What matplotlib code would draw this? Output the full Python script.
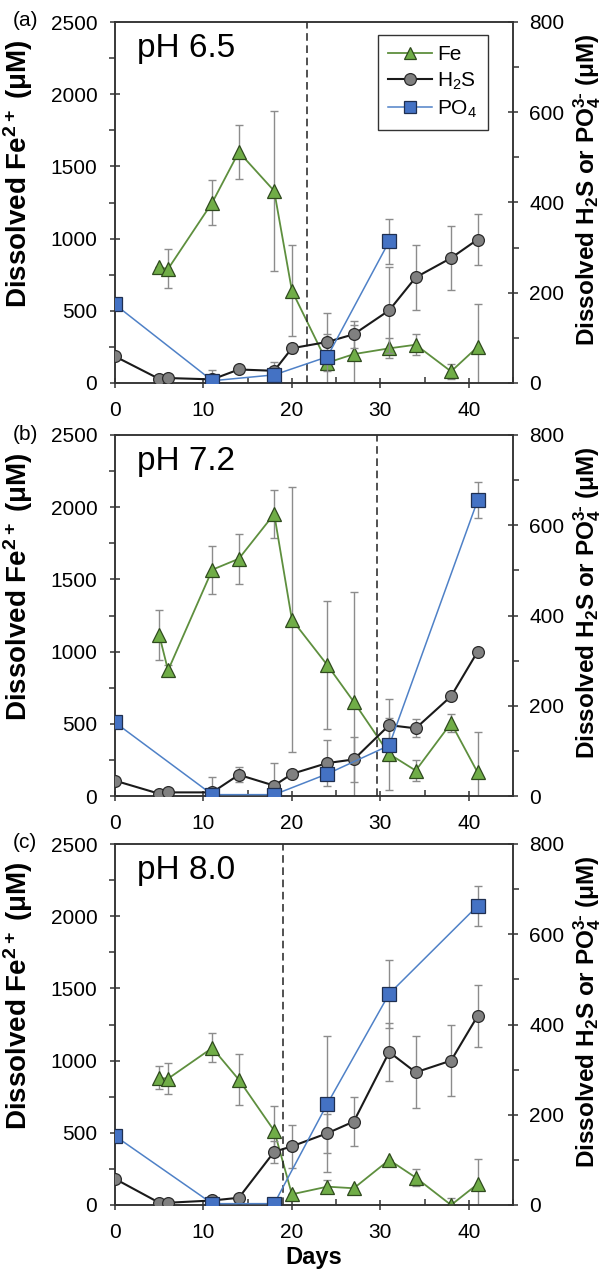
import matplotlib
matplotlib.use("Agg")
import matplotlib.pyplot as plt
from matplotlib.ticker import MultipleLocator
from matplotlib.lines import Line2D

plt.rcParams['font.family'] = ['Liberation Sans', 'DejaVu Sans']
plt.rcParams['mathtext.default'] = 'regular'

# ---------------- data ----------------
days_fe = [5, 6, 11, 14, 18, 20, 24, 27, 31, 34, 38, 41]
days_h2s = [0, 5, 6, 11, 14, 18, 20, 24, 27, 31, 34, 38, 41]
days_po4_a = [0, 11, 18, 24, 31]
days_po4_bc = [0, 11, 18, 24, 31, 41]

fe_a = [800, 790, 1250, 1600, 1330, 640, 140, 200, 240, 265, 80, 250]
fe_a_err = [0, 135, 155, 190, 555, 315, 200, 200, 70, 72, 55, 300]
h2s_a = [59, 9, 11, 8, 30, 27, 77, 91, 108, 161, 234, 277, 318]
h2s_a_err = [0, 0, 0, 20, 0, 20, 10, 64, 30, 95, 72, 70, 57]
po4_a = [174, 5, 18, 58, 314]
po4_a_err = [0, 0, 0, 0, 50]

fe_b = [1115, 870, 1567, 1643, 1953, 1222, 907, 652, 291, 176, 505, 163]
fe_b_err = [170, 40, 165, 172, 165, 915, 445, 760, 250, 70, 60, 280]
h2s_b = [34, 5, 8, 8, 47, 23, 49, 73, 81, 157, 150, 221, 320]
h2s_b_err = [0, 0, 0, 35, 17, 50, 0, 50, 50, 58, 20, 0, 0]
po4_b = [163, 3, 3, 49, 112, 655]
po4_b_err = [0, 0, 0, 0, 0, 40]

fe_c = [880, 875, 1088, 868, 514, 74, 127, 116, 312, 190, 0, 145]
fe_c_err = [80, 105, 100, 175, 170, 0, 45, 0, 0, 60, 50, 175]
h2s_c = [58, 5, 5, 10, 16, 118, 130, 159, 185, 339, 294, 320, 419]
h2s_c_err = [0, 0, 0, 0, 0, 24, 48, 43, 55, 65, 80, 78, 68]
po4_c = [153, 3, 3, 224, 468, 663]
po4_c_err = [0, 0, 0, 150, 75, 45]

panel_letters = ['(a)', '(b)', '(c)']
panel_titles = ['pH 6.5', 'pH 7.2', 'pH 8.0']
divide_day = [21.7, 29.6, 19.0]

panels = [
    (fe_a, fe_a_err, h2s_a, h2s_a_err, days_po4_a, po4_a, po4_a_err),
    (fe_b, fe_b_err, h2s_b, h2s_b_err, days_po4_bc, po4_b, po4_b_err),
    (fe_c, fe_c_err, h2s_c, h2s_c_err, days_po4_bc, po4_c, po4_c_err),
]

# ---------------- style ----------------
FE_FILL = '#70AD47'
FE_LINE = '#5E8F3E'
H2S_FILL = '#808080'
PO4_FILL = '#4472C4'
PO4_LINE = '#4F81C7'
ERR_COL = '#8C8C8C'
SPINE = '#333333'
TICK_FS = 15

W, H = 601, 1274
fig = plt.figure(figsize=(W / 100, H / 100), dpi=100)

x_left, x_right = 115, 513
left = x_left / W
width = (x_right - x_left) / W
tops_bottoms = [(22, 383), (435, 796), (844, 1205)]

for i, (fe, fe_err, h2s, h2s_err, dpo4, po4, po4_err) in enumerate(panels):
    top, bot = tops_bottoms[i]
    ax = fig.add_axes([left, 1 - bot / H, width, (bot - top) / H])
    ax2 = ax.twinx()

    # Fe on left axis
    ax.errorbar(days_fe, fe, yerr=fe_err, fmt='none', ecolor=ERR_COL,
                elinewidth=1.0, capsize=3, capthick=1.0, zorder=1)
    ax.plot(days_fe, fe, '-', color=FE_LINE, lw=1.3, zorder=2)
    ax.plot(days_fe, fe, '^', ms=9.5, mfc=FE_FILL, mec='#2F4A1E', mew=0.9,
            ls='none', zorder=3)

    # H2S and PO4 on right axis
    ax2.errorbar(days_h2s, h2s, yerr=h2s_err, fmt='none', ecolor=ERR_COL,
                 elinewidth=1.0, capsize=3, capthick=1.0, zorder=1)
    ax2.errorbar(dpo4, po4, yerr=po4_err, fmt='none', ecolor=ERR_COL,
                 elinewidth=1.0, capsize=3, capthick=1.0, zorder=1)
    ax2.plot(days_h2s, h2s, '-', color='#1A1A1A', lw=1.5, zorder=2)
    ax2.plot(days_h2s, h2s, 'o', ms=8.5, mfc=H2S_FILL, mec='#2A2A2A', mew=0.9,
             ls='none', zorder=3)
    ax2.plot(dpo4, po4, '-', color=PO4_LINE, lw=1.1, zorder=4)
    ax2.plot(dpo4, po4, 's', ms=9.5, mfc=PO4_FILL, mec='#1F2F50', mew=0.9,
             ls='none', zorder=5)

    ax2.axvline(divide_day[i], color='#222222', lw=1.1, ls=(0, (5, 3)), zorder=0)

    ax.set_xlim(0, 45)
    ax.set_ylim(0, 2500)
    ax2.set_ylim(0, 800)

    ax.xaxis.set_major_locator(MultipleLocator(10))
    ax.xaxis.set_minor_locator(MultipleLocator(5))
    ax.yaxis.set_major_locator(MultipleLocator(500))
    ax.yaxis.set_minor_locator(MultipleLocator(250))
    ax2.yaxis.set_major_locator(MultipleLocator(200))
    ax2.yaxis.set_minor_locator(MultipleLocator(100))

    ax.tick_params(axis='x', which='major', direction='inout', length=7.5,
                   width=1.1, labelsize=TICK_FS, top=False, pad=9, color=SPINE)
    ax.tick_params(axis='x', which='minor', direction='in', length=4,
                   width=1.1, top=False, color=SPINE)
    ax.tick_params(axis='y', which='major', direction='inout', length=7.5,
                   width=1.1, labelsize=TICK_FS, right=False, pad=9, color=SPINE)
    ax.tick_params(axis='y', which='minor', direction='out', length=4,
                   width=1.1, right=False, color=SPINE)
    ax2.tick_params(axis='y', which='major', direction='inout', length=7.5,
                    width=1.1, labelsize=TICK_FS, pad=8, color=SPINE)
    ax2.tick_params(axis='y', which='minor', direction='out', length=4,
                    width=1.1, color=SPINE)

    for a in (ax, ax2):
        for s in a.spines.values():
            s.set_color(SPINE)
            s.set_linewidth(1.1)

    ax.set_ylabel('Dissolved Fe$^{2+}$ (μM)', fontsize=20, fontweight='bold')
    ax.yaxis.set_label_coords(-0.201, 0.58)
    ax2.set_ylabel('Dissolved H$_2$S or PO$_4^{3‐}$ (μM)', fontsize=17.5,
                   fontweight='bold', rotation=90)
    ax2.yaxis.set_label_coords(1.146, 0.535)

    ax.text(0.055, 0.904, panel_titles[i], transform=ax.transAxes,
            fontsize=24, va='baseline', ha='left')
    ax.text(13 / W, 1 - (top - 1) / H, panel_letters[i], transform=fig.transFigure,
            fontsize=15, va='center', ha='left')

    if i == 2:
        ax.set_xlabel('Days', fontsize=17, fontweight='bold', labelpad=3)

    if i == 0:
        handles = [
            Line2D([], [], color=FE_LINE, lw=1.3, marker='^', ms=9,
                   mfc=FE_FILL, mec='#2F4A1E', mew=0.9),
            Line2D([], [], color='#1A1A1A', lw=1.5, marker='o', ms=8.5,
                   mfc=H2S_FILL, mec='#2A2A2A', mew=0.9),
            Line2D([], [], color=PO4_LINE, lw=1.1, marker='s', ms=8.5,
                   mfc=PO4_FILL, mec='#1F2F50', mew=0.9),
        ]
        leg = ax2.legend(handles, ['Fe', 'H$_2$S', 'PO$_4$'], loc='upper right',
                         bbox_to_anchor=(0.937, 0.964), fontsize=15,
                         frameon=True, fancybox=False, framealpha=1,
                         edgecolor='#333333', handlelength=2.1,
                         handletextpad=0.25, labelspacing=0.3,
                         borderpad=0.5, borderaxespad=0)
        leg.get_frame().set_linewidth(1.0)

fig.savefig('out.png', dpi=100)
